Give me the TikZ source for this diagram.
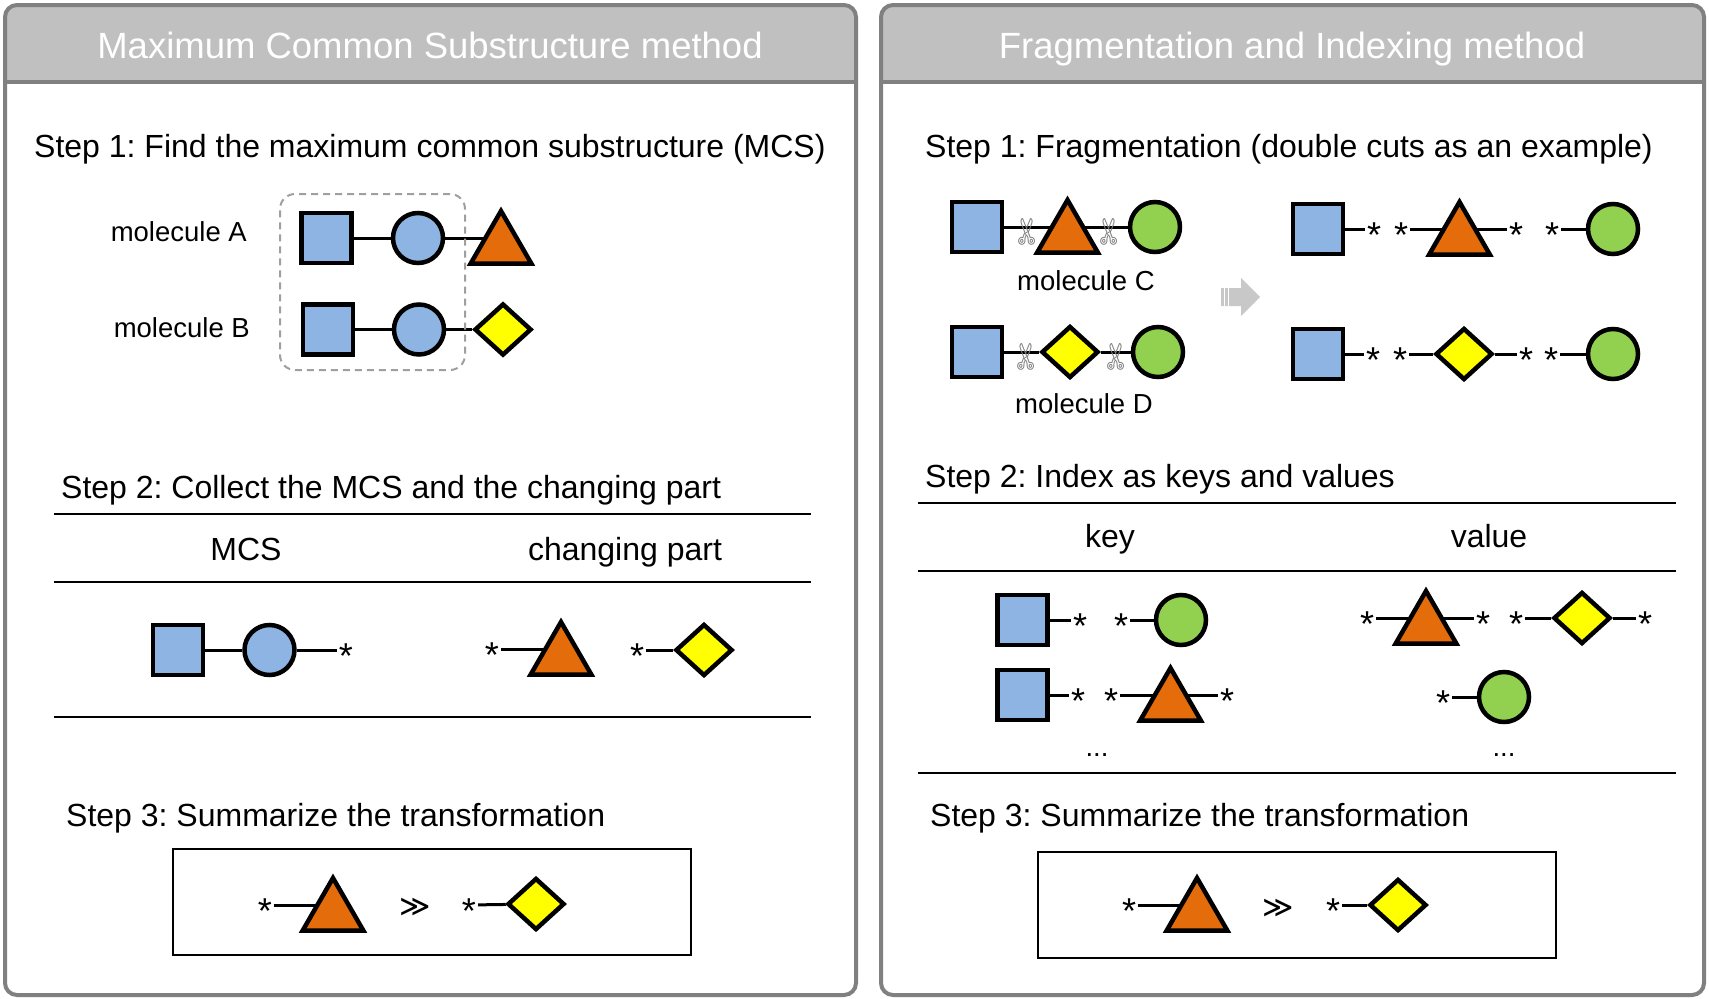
\documentclass[tikz,border=0pt]{standalone}
\usepackage{fontspec}
\setmainfont{Liberation Sans}
\newfontfamily\symfont{DejaVu Sans}
\usetikzlibrary{positioning,shapes.geometric,backgrounds}
\frenchspacing
\definecolor{glyblue}{HTML}{8DB4E2}
\definecolor{glygreen}{HTML}{92D050}
\definecolor{glyorange}{HTML}{E46C0A}
\definecolor{glyyellow}{HTML}{FFFF00}
\definecolor{headfill}{HTML}{C0C0C0}
\definecolor{frameline}{HTML}{808080}
\definecolor{arrowgray}{HTML}{C8C8C8}
\newcommand{\sglyph}{\raisebox{-18pt}[0pt][0pt]{*}}
\tikzset{
  sqr/.style={draw, line width=4.5pt, fill=glyblue, minimum size=50pt, inner sep=0pt},
  circB/.style={circle, draw, line width=4.5pt, fill=glyblue, minimum size=50pt, inner sep=0pt},
  circG/.style={circle, draw, line width=4.5pt, fill=glygreen, minimum size=50pt, inner sep=0pt},
  tri/.style={regular polygon, regular polygon sides=3, draw, line width=4.5pt, fill=glyorange, minimum size=70pt, inner sep=0pt},
  dia/.style={diamond, draw, line width=4.5pt, fill=glyyellow, minimum width=57pt, minimum height=52pt, inner sep=0pt},
  astk/.style={minimum width=18pt, minimum height=12pt, inner sep=0pt, font=\fontsize{36}{40}\selectfont},
  bond/.style={line width=3pt},
  scis/.style={font=\symfont\fontsize{34}{36}\selectfont, text=gray, rotate=90, inner sep=0pt},
  gtgt/.style={font=\symfont\fontsize{30}{34}\selectfont, inner sep=0pt},
  steptxt/.style={font=\fontsize{32}{38}\selectfont, anchor=base west, inner sep=0pt},
  coltxt/.style={font=\fontsize{32}{38}\selectfont, anchor=base, inner sep=0pt},
  moltxt/.style={font=\fontsize{27.5}{32}\selectfont, inner sep=0pt},
  titletxt/.style={font=\fontsize{36.5}{42}\selectfont, text=white, anchor=base, inner sep=0pt},
  panel/.style={draw=frameline, line width=4pt, rounded corners=12pt},
  mcsbox/.style={draw=gray!75, dash pattern=on 7pt off 5pt, line width=2pt, rounded corners=15pt, minimum width=185pt, minimum height=176pt},
  sumbox/.style={draw, line width=2pt, minimum width=518pt, minimum height=106pt},
  rule/.style={line width=2pt}
}

\begin{document}
\begin{tikzpicture}[x=1pt, y=-1pt]
  \useasboundingbox (0,0) rectangle (1709,999);

  % panels and headers
  \fill[headfill, rounded corners=12pt] (5,5) rectangle (856,50);
  \fill[headfill] (5,30) rectangle (856,82);
  \fill[headfill, rounded corners=12pt] (881,5) rectangle (1704,50);
  \fill[headfill] (881,30) rectangle (1704,82);
  \draw[frameline, line width=4pt] (5,82) -- (856,82);
  \draw[frameline, line width=4pt] (881,82) -- (1704,82);
  \draw[panel] (5,5) rectangle (856,995);
  \draw[panel] (881,5) rectangle (1704,995);
  \node[titletxt] (titleL) at (430,58) {Maximum Common Substructure method};
  \node[titletxt] (titleR) at (1292,58) {Fragmentation and Indexing method};

  % left: step 1
  \node[steptxt] (stepL1) at (34,157) {Step 1: Find the maximum common substructure (MCS)};
  \node[mcsbox] (mcs) at (372.5,282) {};
  \node[moltxt, anchor=base east] (molA) at (247,241) {molecule A};
  \node[sqr] (sqA) at (326.5,238) {};
  \node[circB] (ciA) at (418,238) {};
  \node[tri] (trA) at (501,246) {};
  \node[moltxt, anchor=base east] (molB) at (250,337) {molecule B};
  \node[sqr] (sqB) at (328,329.5) {};
  \node[circB] (ciB) at (419,329.5) {};
  \node[dia] (dmB) at (503,329.5) {};

  % left: step 2
  \node[steptxt] (stepL2) at (61,498) {Step 2: Collect the MCS and the changing part};
  \draw[rule] (54,514) -- (811,514);
  \draw[rule] (54,582) -- (811,582);
  \draw[rule] (54,717) -- (811,717);
  \node[coltxt] (hdMCS) at (246,560) {MCS};
  \node[coltxt] (hdChg) at (625,560) {changing part};
  \node[sqr] (sqM) at (178,650) {};
  \node[circB] (ciM) at (269.5,650) {};
  \node[astk] (stM) at (346,650) {\sglyph};
  \node[astk] (stT) at (492,649) {\sglyph};
  \node[tri] (trT) at (561,657) {};
  \node[astk] (stX) at (637,650) {\sglyph};
  \node[dia] (dmX) at (704,650) {};

  % left: step 3
  \node[steptxt] (stepL3) at (66,826) {Step 3: Summarize the transformation};
  \node[sumbox] (boxL) at (432,902) {};
  \node[astk] (stL1) at (265,905) {\sglyph};
  \node[tri] (trL) at (333,913) {};
  \node[gtgt] (ggL) at (415,907) {≫};
  \node[astk] (stL2) at (469,905) {\sglyph};
  \node[dia] (dmL) at (536,904) {};

  % right: step 1
  \node[steptxt] (stepR1) at (925,157) {Step 1: Fragmentation (double cuts as an example)};
  \node[sqr] (sqC) at (977,227) {};
  \node[tri] (trC) at (1067.5,235) {};
  \node[circG] (ciC) at (1155,227) {};
  \node[scis] (cutC1) at (1029,232) {✄};
  \node[scis] (cutC2) at (1111,232) {✄};
  \node[moltxt, anchor=base] (molC) at (1086,290) {molecule C};
  \node[sqr] (sqD) at (977,352) {};
  \node[dia] (dmD) at (1070,352) {};
  \node[circG] (ciD) at (1158,352) {};
  \node[scis] (cutD1) at (1028,357) {✄};
  \node[scis] (cutD2) at (1118,357) {✄};
  \node[moltxt, anchor=base] (molD) at (1084,413) {molecule D};
  \fill[arrowgray] (1221,288) -- (1241,288) -- (1241,278) -- (1260,297)
    -- (1241,316) -- (1241,306) -- (1221,306) -- cycle;
  \draw[white, line width=1pt] (1224.5,288) -- (1224.5,306);
  \draw[white, line width=1pt] (1228,288) -- (1228,306);

  \node[sqr] (sqF1) at (1318,229) {};
  \node[astk] (stF1a) at (1374,229) {\sglyph};
  \node[astk] (stF1b) at (1401,229) {\sglyph};
  \node[tri] (trF1) at (1459.5,237) {};
  \node[astk] (stF1c) at (1516,229) {\sglyph};
  \node[astk] (stF1d) at (1552,229) {\sglyph};
  \node[circG] (ciF1) at (1613,229) {};
  \node[sqr] (sqF2) at (1318,354) {};
  \node[astk] (stF2a) at (1373,354) {\sglyph};
  \node[astk] (stF2b) at (1400,354) {\sglyph};
  \node[dia] (dmF2) at (1464,354) {};
  \node[astk] (stF2c) at (1526,354) {\sglyph};
  \node[astk] (stF2d) at (1551,354) {\sglyph};
  \node[circG] (ciF2) at (1613,354) {};

  % right: step 2
  \node[steptxt] (stepR2) at (925,487) {Step 2: Index as keys and values};
  \draw[rule] (918,503) -- (1676,503);
  \draw[rule] (918,571) -- (1676,571);
  \draw[rule] (918,773) -- (1676,773);
  \node[coltxt] (hdKey) at (1110,547) {key};
  \node[coltxt] (hdVal) at (1489,547) {value};
  \node[sqr] (sqK1) at (1022.5,620) {};
  \node[astk] (stK1a) at (1080,620) {\sglyph};
  \node[astk] (stK1b) at (1121,620) {\sglyph};
  \node[circG] (ciK1) at (1181,620) {};
  \node[sqr] (sqK2) at (1022.5,695) {};
  \node[astk] (stK2a) at (1078,695) {\sglyph};
  \node[astk] (stK2b) at (1111,695) {\sglyph};
  \node[tri] (trK2) at (1170.5,703) {};
  \node[astk] (stK2c) at (1227,695) {\sglyph};
  \node[moltxt, anchor=base] (dotK) at (1097,756) {...};
  \node[astk] (stV1a) at (1367,618) {\sglyph};
  \node[tri] (trV1) at (1426,626) {};
  \node[astk] (stV1b) at (1483,618) {\sglyph};
  \node[astk] (stV1c) at (1516,618) {\sglyph};
  \node[dia] (dmV1) at (1582,618) {};
  \node[astk] (stV1d) at (1645,618) {\sglyph};
  \node[astk] (stV2) at (1443,697) {\sglyph};
  \node[circG] (ciV2) at (1504,697) {};
  \node[moltxt, anchor=base] (dotV) at (1504,756) {...};

  % right: step 3
  \node[steptxt] (stepR3) at (930,826) {Step 3: Summarize the transformation};
  \node[sumbox] (boxR) at (1297,904.5) {};
  \node[astk] (stR1) at (1129,905) {\sglyph};
  \node[tri] (trR) at (1197,913) {};
  \node[gtgt] (ggR) at (1278,908) {≫};
  \node[astk] (stR2) at (1333,905) {\sglyph};
  \node[dia] (dmR) at (1398,905) {};

  % bonds
  \begin{pgfonlayer}{background}
    \draw[bond] (sqA) -- (ciA);
    \draw[bond] (ciA) -- ([yshift=8pt]trA.center);
    \draw[bond] (sqB) -- (ciB);
    \draw[bond] (ciB) -- (dmB);
    \draw[bond] (sqM) -- (ciM);
    \draw[bond] (ciM) -- (stM);
    \draw[bond] (stT) -- ([yshift=8pt]trT.center);
    \draw[bond] (stX) -- (dmX);
    \draw[bond] (stL1) -- ([yshift=8pt]trL.center);
    \draw[bond] (stL2) -- (dmL);
    \draw[bond] (sqC) -- ([yshift=8pt]trC.center);
    \draw[bond] ([yshift=8pt]trC.center) -- (ciC);
    \draw[bond] (sqD) -- (dmD);
    \draw[bond] (dmD) -- (ciD);
    \draw[bond] (sqF1) -- (stF1a);
    \draw[bond] (stF1b) -- ([yshift=8pt]trF1.center);
    \draw[bond] ([yshift=8pt]trF1.center) -- (stF1c);
    \draw[bond] (stF1d) -- (ciF1);
    \draw[bond] (sqF2) -- (stF2a);
    \draw[bond] (stF2b) -- (dmF2);
    \draw[bond] (dmF2) -- (stF2c);
    \draw[bond] (stF2d) -- (ciF2);
    \draw[bond] (sqK1) -- (stK1a);
    \draw[bond] (stK1b) -- (ciK1);
    \draw[bond] (sqK2) -- (stK2a);
    \draw[bond] (stK2b) -- ([yshift=8pt]trK2.center);
    \draw[bond] ([yshift=8pt]trK2.center) -- (stK2c);
    \draw[bond] (stV1a) -- ([yshift=8pt]trV1.center);
    \draw[bond] ([yshift=8pt]trV1.center) -- (stV1b);
    \draw[bond] (stV1c) -- (dmV1);
    \draw[bond] (dmV1) -- (stV1d);
    \draw[bond] (stV2) -- (ciV2);
    \draw[bond] (stR1) -- ([yshift=8pt]trR.center);
    \draw[bond] (stR2) -- (dmR);
  \end{pgfonlayer}
\end{tikzpicture}
\end{document}
